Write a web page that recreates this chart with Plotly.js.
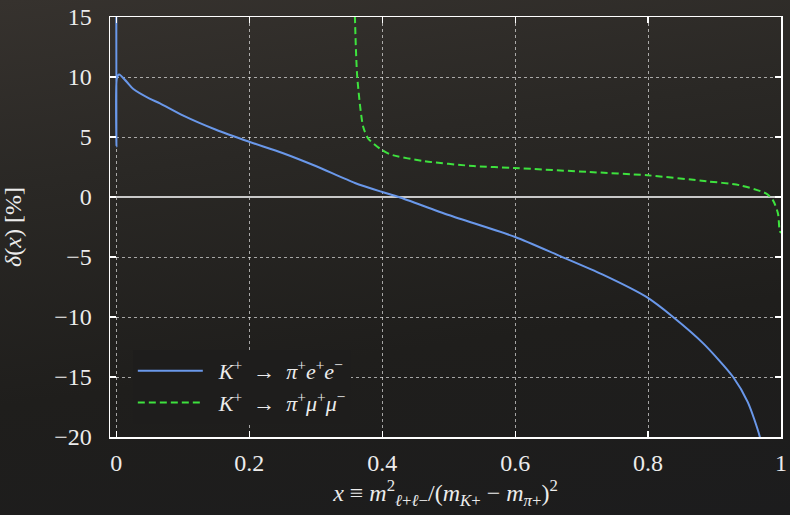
<!DOCTYPE html>
<html>
<head>
<meta charset="utf-8">
<script src="https://cdn.plot.ly/plotly-3.0.1.min.js"></script>
<style>
  html, body { margin: 0; padding: 0; }
  body {
    width: 790px; height: 515px; overflow: hidden;
    background: linear-gradient(172deg, #36322e 0%, #2a2825 30%, #1f1e1c 65%, #1c1c1d 100%);
  }
  #chart { width: 790px; height: 515px; }
</style>
</head>
<body>
<div id="chart"></div>
<script>
// K+ -> pi+ e+ e-
const eeX = [0, 0.0002, 0.0009, 0.0042, 0.0156, 0.0256, 0.05, 0.0657, 0.1, 0.15, 0.2, 0.25, 0.3, 0.359, 0.4, 0.425, 0.5, 0.6, 0.665, 0.732, 0.7975, 0.8376, 0.883, 0.928, 0.95, 0.968, 0.975];
const eeY = [16, 4.2, 9.9, 10.2, 9.6, 9.0, 8.2, 7.8, 6.8, 5.6, 4.6, 3.67, 2.58, 1.17, 0.42, 0.0, -1.5, -3.33, -4.86, -6.47, -8.33, -10.0, -12.2, -15.0, -17.1, -19.95, -22];
// K+ -> pi+ mu+ mu-
const mmX = [0.3585, 0.3625, 0.3715, 0.379, 0.3965, 0.4116, 0.4617, 0.537, 0.5985, 0.712, 0.799, 0.888, 0.938, 0.978, 0.988, 0.9955, 0.998, 1.0];
const mmY = [16, 10, 5.83, 4.87, 4.03, 3.56, 3.0, 2.58, 2.42, 2.08, 1.81, 1.31, 0.98, 0.28, -0.28, -1.39, -2.8, -3.0];

const xTicks = [0, 0.2, 0.4, 0.6, 0.8, 1];
const xTickText = ['0', '0.2', '0.4', '0.6', '0.8', '1'];
const yTicks = [-20, -15, -10, -5, 0, 5, 10, 15];
const yTickText = ['\u221220', '\u221215', '\u221210', '\u22125', '0', '5', '10', '15'];

const names = [
  '\u2002<i>K</i><sup>+</sup>\u2002\u2192\u2002<i>\u03c0</i><sup>+</sup><i>e</i><sup>+</sup><i>e</i><sup>\u2212</sup>',
  '\u2002<i>K</i><sup>+</sup>\u2002\u2192\u2002<i>\u03c0</i><sup>+</sup><i>\u03bc</i><sup>+</sup><i>\u03bc</i><sup>\u2212</sup>'
];

const FONT = 'Liberation Serif';
const TXT = '#ececec';
const FS = 24;

const traces = [
  { x: eeX, y: eeY, mode: 'lines', name: names[0],
    line: { color: '#6a98ea', width: 2, shape: 'spline', smoothing: 0.7 } },
  { x: mmX, y: mmY, mode: 'lines', name: names[1],
    line: { color: '#3ee23e', width: 2, dash: '7px,4px', shape: 'spline', smoothing: 0.7 } }
];

const axisCommon = {
  showline: true, linecolor: '#ffffff', linewidth: 1.5, mirror: 'ticks',
  ticks: 'inside', ticklen: 6, tickcolor: '#ffffff', tickwidth: 1.2,
  showgrid: true, gridcolor: 'rgba(255,255,255,0.6)', griddash: 'dot', gridwidth: 1,
  tickfont: { family: FONT, size: FS, color: TXT }
};

const layout = {
  width: 790, height: 515,
  margin: { l: 110, r: 9, t: 17, b: 78 },
  paper_bgcolor: 'rgba(0,0,0,0)',
  plot_bgcolor: 'rgba(0,0,0,0)',
  font: { family: FONT, size: FS, color: TXT },
  showlegend: true,
  legend: {
    x: 0.034, y: 0.207, xanchor: 'left', yanchor: 'top',
    bgcolor: '#1e1d1c', borderwidth: 0,
    font: { family: FONT, size: 22, color: TXT },
    itemwidth: 65, tracegroupgap: 0
  },
  xaxis: Object.assign({}, axisCommon, {
    range: [-0.0095, 1.0], tickvals: xTicks, ticktext: xTickText,
    zeroline: false, ticklabelstandoff: 4,
    title: { text: '<i>x</i> \u2261 <i>m</i><sup>2</sup><sub><i>\u2113</i>+<i>\u2113</i>\u2212</sub>/(<i>m</i><sub><i>K</i>+</sub> \u2212 <i>m</i><sub><i>\u03c0</i>+</sub>)<sup>2</sup>',
             font: { family: FONT, size: FS, color: TXT }, standoff: 6 }
  }),
  yaxis: Object.assign({}, axisCommon, {
    range: [-20, 15], tickvals: yTicks, ticktext: yTickText,
    zeroline: true, zerolinecolor: '#c8c8c8', zerolinewidth: 1.5,
    ticklabelstandoff: 12,
    title: { text: '<i>\u03b4</i>(<i>x</i>) [%]', font: { family: FONT, size: FS, color: TXT }, standoff: 26 }
  })
};

Plotly.newPlot('chart', traces, layout, { displayModeBar: false, staticPlot: true });
</script>
</body>
</html>
